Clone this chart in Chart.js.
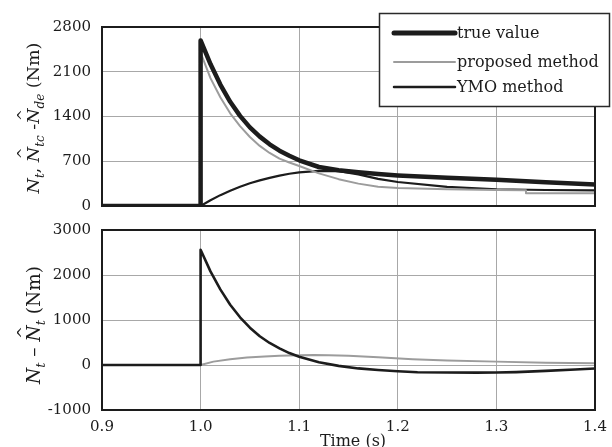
<!DOCTYPE html>
<html><head><meta charset="utf-8">
<script src="https://cdn.jsdelivr.net/npm/chart.js@4"></script>
<style>
html,body{margin:0;padding:0;background:#fff;}
#wrap{position:relative;width:612px;height:447px;overflow:hidden;background:#fff;}
#wrap canvas{position:absolute;left:0;}
</style></head><body>
<div id="wrap">
<canvas id="c1" width="612" height="216" style="top:0px"></canvas>
<canvas id="c2" width="612" height="231" style="top:216px"></canvas>
</div>
<script>
// ---------- data ----------
const timeTicks = [0.9, 1.0, 1.1, 1.2, 1.3, 1.4];
const topTicks = [0, 700, 1400, 2100, 2800];
const bottomTicks = [-1000, 0, 1000, 2000, 3000];
const seriesNames = ['true value', 'proposed method', 'YMO method'];

// top panel
const tTrue = [0.9, 1.0, 1.0, 1.01, 1.02, 1.03, 1.04, 1.05, 1.06, 1.07, 1.08, 1.09, 1.10, 1.12, 1.14, 1.16, 1.18, 1.20, 1.25, 1.30, 1.35, 1.40];
const vTrue = [0, 0, 2590, 2220, 1900, 1630, 1410, 1230, 1085, 965, 865, 785, 715, 610, 560, 528, 500, 478, 440, 410, 372, 335];

const tProp = [0.9, 1.0, 1.0, 1.01, 1.02, 1.03, 1.04, 1.05, 1.06, 1.07, 1.08, 1.09, 1.10, 1.12, 1.14, 1.16, 1.18, 1.20, 1.25, 1.30, 1.33, 1.33, 1.40];
const vProp = [0, 0, 2400, 2000, 1700, 1450, 1250, 1080, 940, 830, 740, 680, 625, 510, 420, 350, 300, 280, 262, 252, 248, 200, 200];

const tYmo = [0.9, 1.0, 1.01, 1.02, 1.03, 1.04, 1.05, 1.06, 1.07, 1.08, 1.09, 1.10, 1.12, 1.14, 1.16, 1.18, 1.20, 1.25, 1.30, 1.35, 1.40];
const vYmo = [0, 0, 90, 170, 240, 300, 355, 400, 440, 475, 505, 525, 550, 545, 495, 425, 375, 300, 262, 250, 245];

// bottom panel (errors)
const tErrYmo = [0.9, 1.0, 1.0, 1.01, 1.02, 1.03, 1.04, 1.05, 1.06, 1.07, 1.08, 1.09, 1.10, 1.12, 1.14, 1.16, 1.18, 1.20, 1.22, 1.25, 1.28, 1.30, 1.32, 1.35, 1.38, 1.40];
const vErrYmo = [0, 0, 2560, 2080, 1680, 1340, 1060, 830, 640, 490, 370, 265, 185, 60, -20, -76, -112, -140, -160, -168, -170, -168, -158, -130, -100, -78];

const tErrProp = [0.9, 1.0, 1.013, 1.03, 1.047, 1.065, 1.08, 1.10, 1.115, 1.13, 1.15, 1.18, 1.215, 1.25, 1.30, 1.35, 1.40];
const vErrProp = [0, 0, 75, 130, 165, 190, 205, 215, 220, 215, 205, 170, 130, 100, 75, 52, 38];

// ---------- helpers ----------
const pts = (ts, vs) => ts.map((t, i) => ({x: t, y: vs[i]}));
const DARK = '#1c1c1c', GRAY = '#9c9c9c', GRID = '#a8a8a8';
const SERIF = '"DejaVu Serif", "Liberation Serif", serif';

function drawRich(ctx, cx, cy, segs, size) {
  ctx.save();
  ctx.translate(cx, cy);
  ctx.rotate(-Math.PI / 2);
  ctx.fillStyle = DARK;
  ctx.textBaseline = 'alphabetic';
  ctx.textAlign = 'left';
  const fontOf = s => (s.italic ? 'italic ' : '') + (s.sub ? Math.round(size * 0.68) : size) + 'px ' + SERIF;
  let total = 0;
  segs.forEach(s => { ctx.font = fontOf(s); s.w = ctx.measureText(s.text).width; total += s.w; });
  let x = -total / 2;
  const base = size * 0.36;
  segs.forEach(s => {
    ctx.font = fontOf(s);
    const dy = s.sub ? base + size * 0.28 : base;
    ctx.fillText(s.text, x, dy);
    if (s.hat) {
      ctx.font = Math.round(size * 0.8) + 'px ' + SERIF;
      const hw = ctx.measureText('^').width;
      ctx.fillText('^', x + s.w / 2 - hw / 2 + 1, base - size * 0.62);
    }
    x += s.w;
  });
  ctx.restore();
}

const framePlugin = {
  id: 'frame',
  afterDatasetsDraw(chart) {
    const {ctx, chartArea: a} = chart;
    ctx.save();
    ctx.strokeStyle = DARK;
    ctx.lineWidth = 2;
    ctx.strokeRect(a.left, a.top, a.right - a.left, a.bottom - a.top);
    ctx.restore();
  }
};

function baseOptions(yTicks, yMin, yMax, showX, padTop, xHeight, padRight) {
  return {
    responsive: false,
    animation: false,
    devicePixelRatio: 1,
    layout: {padding: {left: 0, right: padRight, top: padTop, bottom: 0}},
    plugins: {legend: {display: false}, tooltip: {enabled: false}},
    elements: {point: {radius: 0}, line: {tension: 0, borderJoinStyle: 'round', borderCapStyle: 'round'}},
    scales: {
      x: {
        type: 'linear', min: 0.9, max: 1.4,
        afterBuildTicks: s => { s.ticks = timeTicks.map(v => ({value: v})); },
        afterFit: s => { s.height = xHeight; s.paddingLeft = 0; s.paddingRight = 0; },
        grid: {color: GRID, lineWidth: 1, drawTicks: false},
        border: {display: false},
        ticks: {display: showX, padding: 8, color: DARK, font: {family: SERIF, size: 15},
                callback: v => Number(v).toFixed(1), maxRotation: 0}
      },
      y: {
        min: yMin, max: yMax,
        afterBuildTicks: s => { s.ticks = yTicks.map(v => ({value: v})); },
        afterFit: s => { s.width = 102; s.paddingTop = 0; s.paddingBottom = 0; },
        grid: {color: GRID, lineWidth: 1, drawTicks: false},
        border: {display: false},
        ticks: {padding: 11, color: DARK, font: {family: SERIF, size: 15}, callback: v => String(v)}
      }
    }
  };
}

// ---------- top chart ----------
const topTitle = {
  id: 'topTitle',
  afterDraw(chart) {
    const ctx = chart.ctx;
    drawRich(ctx, 33, 118, [
      {text: 'N', italic: true}, {text: 't', italic: true, sub: true},
      {text: ', '}, {text: 'N', italic: true, hat: true}, {text: 'tc', italic: true, sub: true},
      {text: ' -'}, {text: 'N', italic: true, hat: true}, {text: 'de', italic: true, sub: true},
      {text: ' (Nm)'}
    ], 17.5);
    // legend
    ctx.save();
    ctx.fillStyle = '#fff';
    ctx.fillRect(379, 13, 231, 94);
    ctx.strokeStyle = '#2a2a2a';
    ctx.lineWidth = 1.5;
    ctx.strokeRect(379.5, 13.5, 230, 93);
    const items = [
      {y: 33, color: DARK, w: 5},
      {y: 62, color: GRAY, w: 2},
      {y: 87, color: DARK, w: 2.5}
    ];
    ctx.font = '16px ' + SERIF;
    ctx.textBaseline = 'middle';
    ctx.textAlign = 'left';
    items.forEach((it, i) => {
      ctx.beginPath();
      ctx.strokeStyle = it.color;
      ctx.lineWidth = it.w;
      ctx.lineCap = 'round';
      ctx.moveTo(394, it.y); ctx.lineTo(455, it.y);
      ctx.stroke();
      ctx.fillStyle = DARK;
      ctx.fillText(seriesNames[i], 457, it.y + 1);
    });
    ctx.restore();
  }
};

new Chart(document.getElementById('c1'), {
  type: 'line',
  data: {
    datasets: [
      {label: seriesNames[0], data: pts(tTrue, vTrue), borderColor: DARK, borderWidth: 4.5},
      {label: seriesNames[1], data: pts(tProp, vProp), borderColor: GRAY, borderWidth: 2},
      {label: seriesNames[2], data: pts(tYmo, vYmo), borderColor: DARK, borderWidth: 2.2}
    ]
  },
  options: baseOptions(topTicks, 0, 2800, false, 27, 10, 17),
  plugins: [framePlugin, topTitle]
});

// ---------- bottom chart ----------
const bottomTitle = {
  id: 'bottomTitle',
  afterDraw(chart) {
    const ctx = chart.ctx;
    drawRich(ctx, 33, 109, [
      {text: 'N', italic: true}, {text: 't', italic: true, sub: true},
      {text: ' \u2013 '}, {text: 'N', italic: true, hat: true}, {text: 't', italic: true, sub: true},
      {text: ' (Nm)'}
    ], 18.5);
    ctx.save();
    ctx.fillStyle = DARK;
    ctx.font = '16px ' + SERIF;
    ctx.textAlign = 'center';
    ctx.textBaseline = 'middle';
    ctx.fillText('Time (s)', 353, 226);
    ctx.restore();
  }
};

new Chart(document.getElementById('c2'), {
  type: 'line',
  data: {
    datasets: [
      {label: 'true - YMO', data: pts(tErrYmo, vErrYmo), borderColor: DARK, borderWidth: 2.6},
      {label: 'true - proposed', data: pts(tErrProp, vErrProp), borderColor: GRAY, borderWidth: 2}
    ]
  },
  options: baseOptions(bottomTicks, -1000, 3000, true, 14, 37, 17),
  plugins: [framePlugin, bottomTitle]
});
</script>
</body></html>
